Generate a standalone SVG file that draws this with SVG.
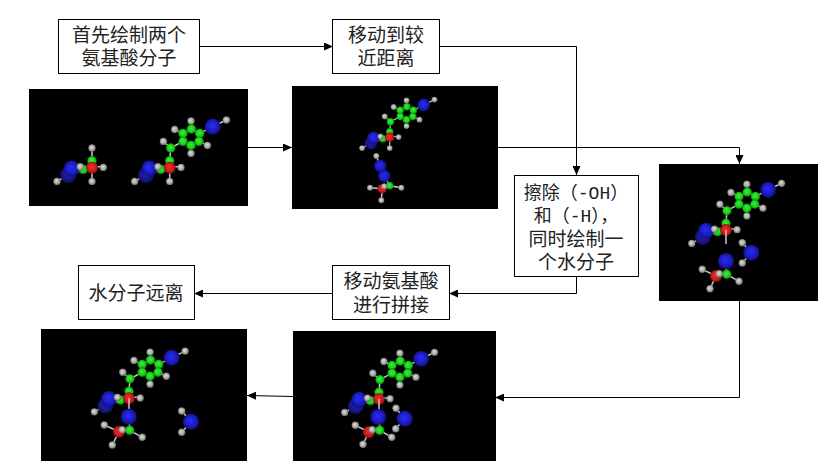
<svg xmlns="http://www.w3.org/2000/svg" xmlns:xlink="http://www.w3.org/1999/xlink" width="840" height="474" viewBox="0 0 840 474">
<style>
.box{fill:#fff;stroke:#000;stroke-width:1}
.img{fill:#000}
.t{font-family:"Liberation Mono","Noto Sans CJK SC",monospace;font-size:19px;fill:#222;text-anchor:middle}
.e{font-size:18px}
.c{fill:none;stroke:#000;stroke-width:1}
.b{stroke:#c8c8c8;stroke-width:1.500;fill:none}
.h{r:3.700px;fill:url(#gh)}
.g{r:4.700px;fill:url(#gg)}
.r{r:6px;fill:url(#gr)}
.n{r:8px;fill:url(#gn)}
.n2{r:8px;fill:url(#gd)}
</style>
<defs>
<radialGradient id="gh" cx=".5" cy=".5" r=".55" fx=".42" fy=".4"><stop offset="0" stop-color="#dededa"/><stop offset=".6" stop-color="#a8a8a4"/><stop offset="1" stop-color="#555552"/></radialGradient>
<radialGradient id="gg" cx=".5" cy=".5" r=".55" fx=".45" fy=".4"><stop offset="0" stop-color="#30f830"/><stop offset=".6" stop-color="#1cd01c"/><stop offset="1" stop-color="#0a6c0a"/></radialGradient>
<radialGradient id="gr" cx=".5" cy=".5" r=".55" fx=".45" fy=".4"><stop offset="0" stop-color="#f82c2c"/><stop offset=".6" stop-color="#d01c1c"/><stop offset="1" stop-color="#6c0c0c"/></radialGradient>
<radialGradient id="gn" cx=".5" cy=".5" r=".55" fx=".45" fy=".4"><stop offset="0" stop-color="#2c2cf0"/><stop offset=".6" stop-color="#1c1cc8"/><stop offset="1" stop-color="#0e0e60"/></radialGradient>
<radialGradient id="gd" cx=".5" cy=".5" r=".55" fx=".45" fy=".4"><stop offset="0" stop-color="#2222a8"/><stop offset=".6" stop-color="#181890"/><stop offset="1" stop-color="#0c0c48"/></radialGradient>
<marker id="ah" markerWidth="9" markerHeight="8" refX="9" refY="4" orient="auto" markerUnits="userSpaceOnUse"><path d="M0 0L9 4L0 8Z" fill="#000"/></marker>
<g id="res">
<path class="b" d="M0-7V0M-11.700-1H11.300M-8.700 1.700L-23 8M-23.700 7.300L-35 13.700"/>
<circle class="n2" cx="-23.700" cy="7.300"/><circle class="n" cx="-20.300" cy=".7"/>
<circle class="h" cx="-35" cy="13.700"/><circle class="g" cx="-8.700" cy="1.700"/>
<circle class="g" cx="0" cy="-7"/><circle class="r" cx="0" cy="0"/>
<circle class="h" cx="11.300" cy="-.3"/><circle class="h" cx="-11.700" cy="-1"/>
</g>
<g id="side">
<path class="b" d="M0-7L1-19.700L-6.300-26.300M1-19.700L13.300-26.300M13.300-34.300L21.700-38.700L30-34.300L29.300-26.300L21.300-22.300L13.300-26.300ZM13.300-34.300L5-38.300M21.700-38.700V-46.700M29.300-26.300L37.700-22.300M21.300-22.300V-14.300M30-34.300L43-41L56.700-47.700"/>
<circle class="h" cx="-6.300" cy="-26.300"/><circle class="h" cx="5" cy="-38.300"/><circle class="h" cx="21.300" cy="-46.700"/><circle class="h" cx="37.700" cy="-22.300"/><circle class="h" cx="21.300" cy="-14.300"/><circle class="h" cx="56.700" cy="-47.700"/>
<circle class="g" cx="1" cy="-19.700"/><circle class="g" cx="13.300" cy="-34.300"/><circle class="g" cx="21.700" cy="-38.700"/><circle class="g" cx="30" cy="-34.300"/><circle class="g" cx="29.300" cy="-26.300"/><circle class="g" cx="21.300" cy="-22.300"/><circle class="g" cx="13.300" cy="-26.300"/>
<circle class="n" cx="43" cy="-41"/>
</g>
<g id="hb"><path class="b" d="M0 0V13.700"/><circle class="h" cx="0" cy="13.700"/></g>
</defs>

<g id="connectors">
<path class="c" marker-end="url(#ah)" d="M199 46.500H333"/>
<path class="c" marker-end="url(#ah)" d="M439 46.500H576.500V175"/>
<path class="c" marker-end="url(#ah)" d="M248 147.500H292"/>
<path class="c" marker-end="url(#ah)" d="M498 147.500H739.500V164"/>
<path class="c" marker-end="url(#ah)" d="M739.500 301V397.500H495"/>
<path class="c" marker-end="url(#ah)" d="M293 396.500L247 395.500"/>
<path class="c" marker-end="url(#ah)" d="M576.500 277V293.500H449"/>
<path class="c" marker-end="url(#ah)" d="M333 293.500H194"/>
</g>

<g id="box-draw"><rect class="box" x="58.500" y="19.500" width="141" height="54"/><text class="t" x="129" y="42">首先绘制两个</text><text class="t" x="129" y="65">氨基酸分子</text></g>
<g id="box-move"><rect class="box" x="332.500" y="19.500" width="107" height="54"/><text class="t" x="386" y="42">移动到较</text><text class="t" x="386" y="65">近距离</text></g>
<g id="box-erase"><rect class="box" x="514.500" y="175.500" width="124" height="101"/><text class="t e" x="576" y="199">擦除（-OH）</text><text class="t e" x="576" y="222">和（-H），</text><text class="t" x="576" y="246">同时绘制一</text><text class="t" x="576" y="269">个水分子</text></g>
<g id="box-join"><rect class="box" x="332.500" y="265.500" width="117" height="54"/><text class="t" x="391" y="288">移动氨基酸</text><text class="t" x="391" y="312">进行拼接</text></g>
<g id="box-water"><rect class="box" x="78.500" y="265.500" width="116" height="54"/><text class="t" x="136" y="300">水分子远离</text></g>

<g id="image-a">
<rect class="img" x="29" y="89" width="219" height="117"/>
<g transform="translate(92 167.700)"><path class="b" d="M0 0V-19.700"/><circle class="h" cx="0" cy="-19.700"/><use href="#hb"/><use href="#res"/></g>
<g transform="translate(169.700 167.700)"><use href="#hb"/><use href="#side"/><use href="#res"/></g>
</g>

<g id="image-b">
<rect class="img" x="292" y="86" width="206" height="123"/>
<g transform="translate(389.700 137.300) scale(.79)"><use href="#hb"/><use href="#side"/><use href="#res"/></g>
<path class="b" d="M376.300 156L380.300 166L384.300 176L389.700 185.700M389.700 185.700L401.300 187.700M389.700 185.700L382.300 190M382.300 188.700L370 187.700M382.300 188.700L381.300 200.300"/>
<circle class="h" style="r:3px" cx="376.300" cy="156"/><circle class="n" style="r:6.200px" cx="380.300" cy="166"/><circle class="n" style="r:6.200px" cx="384.300" cy="176"/>
<circle class="r" style="r:4.800px" cx="382.300" cy="188.700"/><circle class="g" style="r:3.800px" cx="389.700" cy="185.700"/>
<circle class="h" style="r:3px" cx="401.300" cy="187.700"/><circle class="h" style="r:3px" cx="370" cy="187.700"/><circle class="h" style="r:3px" cx="384.300" cy="186.300"/><circle class="h" style="r:3px" cx="381.300" cy="200.300"/>
</g>

<g id="image-c">
<rect class="img" x="659" y="164" width="159" height="137"/>
<g transform="translate(726 230) scale(.98)"><use href="#side"/><use href="#res"/></g>
<path class="b" d="M726 230V244M726.700 274.300L716 276L702.300 269.300M716 276L710 288.700M726.700 274.300L739 281.300M726 261L726.700 274.300M751.300 252.700L742.300 242.700M751.300 252.700L742.300 263"/>
<circle class="n" cx="726" cy="261"/>
<circle class="r" cx="716" cy="276"/><circle class="g" cx="726.700" cy="274.300"/>
<circle class="h" cx="702.300" cy="269.300"/><circle class="h" cx="739" cy="281.300"/><circle class="h" cx="719.300" cy="273.700"/><circle class="h" cx="710" cy="288.700"/>
<circle class="n" cx="751.300" cy="252.700"/><circle class="h" cx="742.300" cy="242.700"/><circle class="h" cx="742.300" cy="263"/>
</g>

<g id="image-d">
<rect class="img" x="293" y="331" width="203" height="130"/>
<g transform="translate(379 399) scale(.98)"><use href="#side"/><use href="#res"/></g>
<path class="b" d="M379 399V417M379 417L380 430.300L369 432L355.300 425.300M369 432L363 444.300M380 430.300L391.700 437.300M404.700 418.700L396 408.300M404.700 418.700L395.700 428.700"/>
<circle class="n" cx="378.300" cy="417"/>
<circle class="r" cx="369" cy="432"/><circle class="g" cx="379.700" cy="430.300"/>
<circle class="h" cx="355.300" cy="425.300"/><circle class="h" cx="391.700" cy="437.300"/><circle class="h" cx="372.300" cy="429.700"/><circle class="h" cx="363" cy="444.300"/>
<circle class="n" cx="404.700" cy="418.700"/><circle class="h" cx="396" cy="408.300"/><circle class="h" cx="395.700" cy="428.700"/>
</g>

<g id="image-e">
<rect class="img" x="41" y="329" width="206" height="132"/>
<g transform="translate(129 398.300) scale(.99)"><use href="#side"/><use href="#res"/></g>
<path class="b" d="M129 398.300V417M129 417L129.700 430.300L119 431.700L104.300 425M119 431.700L112.300 445M129.700 430.300L142.300 437.300M191 421.700L181.700 411M191 421.700L181.700 432.300"/>
<circle class="n" cx="128.700" cy="416.700"/>
<circle class="r" cx="119" cy="431.700"/><circle class="g" cx="129.700" cy="430.300"/>
<circle class="h" cx="104.300" cy="425"/><circle class="h" cx="142.300" cy="437.300"/><circle class="h" cx="122.300" cy="429.700"/><circle class="h" cx="112.300" cy="445"/>
<circle class="n" cx="191" cy="421.700"/><circle class="h" cx="181.700" cy="411"/><circle class="h" cx="181.700" cy="432.300"/>
</g>
</svg>
